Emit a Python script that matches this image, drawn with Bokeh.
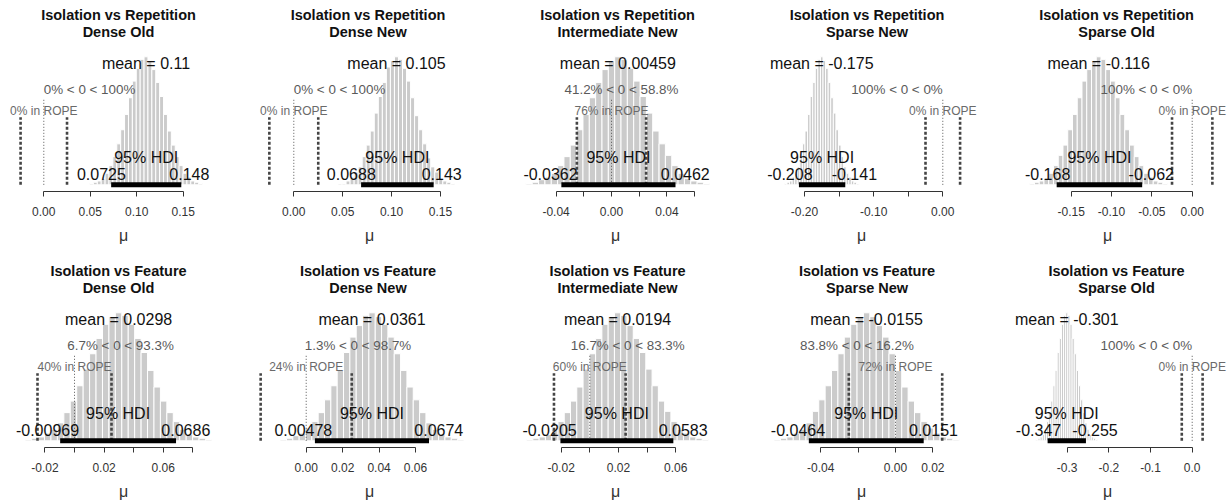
import numpy as np
from bokeh.plotting import figure
from bokeh.models import Range1d, FixedTicker, PrintfTickFormatter, Label, LinearAxis
from bokeh.layouts import gridplot
from bokeh.embed import file_html
from bokeh.resources import INLINE

# ---------------- data ----------------
comparisons = ["Isolation vs Repetition"] * 5 + ["Isolation vs Feature"] * 5
conditions = ["Dense Old", "Dense New", "Intermediate New", "Sparse New", "Sparse Old"] * 2
means = [0.11, 0.105, 0.00459, -0.175, -0.116, 0.0298, 0.0361, 0.0194, -0.0155, -0.301]
hdi_low = [0.0725, 0.0688, -0.0362, -0.208, -0.168, -0.00969, 0.00478, -0.0205, -0.0464, -0.347]
hdi_high = [0.148, 0.143, 0.0462, -0.141, -0.062, 0.0686, 0.0674, 0.0583, 0.0151, -0.255]
pct_below = [0, 0, 41.2, 100, 100, 6.7, 1.3, 16.7, 83.8, 100]
pct_above = [100, 100, 58.8, 0, 0, 93.3, 98.7, 83.3, 16.2, 0]
pct_in_rope = [0, 0, 76, 0, 0, 40, 24, 60, 72, 0]
rope = [-0.025, 0.025]
comp_val = 0.0
cred_mass = 95

hist_left = [0.0492, 0.0452, -0.0618, -0.2290, -0.2014, -0.0333, -0.0143, -0.0441, -0.0650, -0.3751]
bin_width = [0.004194, 0.004122, 0.004578, 0.003722, 0.005889, 0.00435, 0.003479, 0.004378, 0.003417, 0.005111]
heights = [
    [0.01, 0.02, 0.03, 0.05, 0.09, 0.15, 0.22, 0.32, 0.43, 0.55, 0.68, 0.81, 0.91, 0.98, 1.00, 0.97, 0.90, 0.80, 0.69, 0.55, 0.42, 0.31, 0.22, 0.15, 0.09, 0.06, 0.03, 0.02, 0.01],
    [0.01, 0.01, 0.03, 0.06, 0.10, 0.14, 0.22, 0.31, 0.42, 0.56, 0.69, 0.80, 0.92, 0.97, 1.00, 0.98, 0.91, 0.81, 0.68, 0.54, 0.43, 0.32, 0.21, 0.14, 0.10, 0.05, 0.03, 0.02, 0.01],
    [0.01, 0.02, 0.04, 0.06, 0.09, 0.15, 0.22, 0.31, 0.43, 0.55, 0.68, 0.80, 0.90, 0.97, 1.00, 0.98, 0.91, 0.81, 0.69, 0.56, 0.42, 0.32, 0.23, 0.15, 0.09, 0.05, 0.03, 0.02, 0.01],
    [0.01, 0.02, 0.03, 0.06, 0.09, 0.14, 0.22, 0.32, 0.42, 0.55, 0.69, 0.80, 0.91, 0.98, 1.00, 0.97, 0.91, 0.80, 0.68, 0.56, 0.43, 0.31, 0.22, 0.14, 0.09, 0.06, 0.03, 0.02, 0.01],
    [0.01, 0.02, 0.03, 0.05, 0.09, 0.15, 0.23, 0.31, 0.43, 0.55, 0.68, 0.81, 0.90, 0.97, 1.00, 0.98, 0.90, 0.81, 0.68, 0.55, 0.43, 0.31, 0.22, 0.15, 0.09, 0.06, 0.03, 0.02, 0.01],
    [0.01, 0.02, 0.03, 0.06, 0.09, 0.14, 0.22, 0.31, 0.43, 0.56, 0.68, 0.80, 0.91, 0.97, 1.00, 0.98, 0.91, 0.80, 0.69, 0.55, 0.42, 0.31, 0.22, 0.15, 0.09, 0.05, 0.03, 0.02, 0.01],
    [0.01, 0.02, 0.04, 0.06, 0.10, 0.15, 0.22, 0.32, 0.43, 0.55, 0.69, 0.81, 0.90, 0.98, 1.00, 0.97, 0.91, 0.81, 0.68, 0.55, 0.42, 0.32, 0.22, 0.14, 0.09, 0.05, 0.03, 0.02, 0.01],
    [0.01, 0.02, 0.03, 0.05, 0.09, 0.15, 0.22, 0.31, 0.42, 0.56, 0.68, 0.80, 0.91, 0.97, 1.00, 0.98, 0.90, 0.80, 0.69, 0.56, 0.43, 0.31, 0.23, 0.15, 0.09, 0.06, 0.03, 0.02, 0.01],
    [0.01, 0.02, 0.03, 0.06, 0.09, 0.14, 0.23, 0.32, 0.43, 0.55, 0.68, 0.81, 0.91, 0.97, 1.00, 0.97, 0.90, 0.81, 0.68, 0.55, 0.42, 0.31, 0.22, 0.15, 0.10, 0.06, 0.03, 0.02, 0.01],
    [0.01, 0.02, 0.03, 0.05, 0.09, 0.15, 0.22, 0.31, 0.43, 0.55, 0.69, 0.80, 0.91, 0.98, 1.00, 0.98, 0.91, 0.80, 0.68, 0.55, 0.43, 0.32, 0.22, 0.14, 0.09, 0.05, 0.03, 0.02, 0.01],
]
labeled_ticks = [[0, 0.05, 0.10, 0.15], [0, 0.05, 0.10, 0.15], [-0.04, 0, 0.04], [-0.20, -0.10, 0.0],
                 [-0.15, -0.10, -0.05, 0.0], [-0.02, 0.02, 0.06], [0, 0.02, 0.04, 0.06], [-0.02, 0.02, 0.06],
                 [-0.04, 0.0, 0.02], [-0.3, -0.2, -0.1, 0.0]]
unlabeled_ticks = [[], [], [-0.02, 0.02, 0.06], [-0.15, -0.05], [], [0.0, 0.04, 0.08], [], [0.0, 0.04],
                   [-0.02], []]
tick_formats = ["%.2f"] * 9 + ["%.1f"]
axis_title = "μ"

# ---------------- layout (pixels) ----------------
FIG_W = 246
ROW_H = [256, 247]
FRAME_H = 191
BASE_PX = 184.3      # baseline (y=0) measured from frame top
UNIT_PX = 128.0      # pixels per unit of normalised density
zero_px = [43.3, 47.3, 119.0, 204.3, 207.7, 74.0, 59.7, 97.3, 157.0, 207.7]
px_per_unit = [929, 978, 1385, 691.7, 806.7, 1480, 1822, 1433, 1868, 416.7]
center_px = [118, 121.5, 125, 128.5, 132]

FONT = "Liberation Sans"
ARIAL_W = {str(d): 556 for d in range(10)}
ARIAL_W.update({".": 278, "-": 333, "%": 889, " ": 278, "<": 584, "=": 584})


def text_width(s, size):
    return sum(ARIAL_W.get(ch, 556) for ch in s) * size / 1000.0


def fmt(v):
    return f"{v:g}"


def ypx(px_from_top):
    return (BASE_PX - px_from_top) / UNIT_PX


figs = []
for i in range(10):
    r, c = divmod(i, 5)
    ppu = px_per_unit[i]
    xs = -zero_px[i] / ppu
    xe = xs + FIG_W / ppu
    p = figure(width=FIG_W, height=ROW_H[r], x_range=Range1d(xs, xe),
               y_range=Range1d(ypx(FRAME_H), ypx(0)),
               output_backend="svg", toolbar_location=None,
               min_border_left=0, min_border_right=0, min_border_top=0,
               min_border_bottom=ROW_H[r] - FRAME_H, y_axis_location=None,
               outline_line_color=None, background_fill_color="white",
               border_fill_color="white")
    p.xgrid.visible = False
    p.ygrid.visible = False

    # histogram
    h = np.array(heights[i])
    edges = hist_left[i] + bin_width[i] * np.arange(len(h) + 1)
    p.quad(left=edges[:-1], right=edges[1:], bottom=0, top=h,
           fill_color="#cbcbcb", line_color="white", line_width=1)

    # ROPE and comparison value lines
    for rv in rope:
        p.segment(x0=[rv], y0=[0], x1=[rv], y1=[0.96 * 0.55], line_color="#444444",
                  line_width=2.6, line_dash="3 2")
    p.segment(x0=[comp_val], y0=[0], x1=[comp_val], y1=[0.96 * 0.7], line_color="#555555",
              line_width=1, line_dash="1 2")

    # HDI bar
    p.segment(x0=[hdi_low[i]], y0=[0], x1=[hdi_high[i]], y1=[0], line_color="black",
              line_width=5, line_cap="butt")

    cx = xs + center_px[c] / ppu
    # titles
    for txt, py in ((comparisons[i], 14), (conditions[i], 31.7)):
        p.add_layout(Label(x=cx, y=ypx(py), text=txt, text_align="center", text_baseline="middle",
                           text_font=FONT, text_font_size="14.5px", text_font_style="bold",
                           text_color="#111111"))
    # mean
    p.add_layout(Label(x=means[i], y=0.9, y_offset=-2, text="mean = " + fmt(means[i]),
                       text_align="center", text_baseline="bottom", text_font=FONT,
                       text_font_size="16px", text_color="#111111"))
    # comparison value text
    cv_txt = f"{fmt(pct_below[i])}% < {fmt(comp_val)} < {fmt(pct_above[i])}%"
    cv_size = 13.4
    p.add_layout(Label(x=comp_val, y=0.7, y_offset=-2, text=cv_txt, text_align="left",
                       text_baseline="bottom",
                       x_offset=-pct_below[i] / 100 * text_width(cv_txt, cv_size),
                       text_font=FONT, text_font_size=f"{cv_size}px", text_color="#5a5a5a"))
    # ROPE text
    p.add_layout(Label(x=sum(rope) / 2, y=0.55, y_offset=-4, text=f"{fmt(pct_in_rope[i])}% in ROPE",
                       text_align="center", text_baseline="bottom", text_font=FONT,
                       text_font_size="12px", text_color="#6a6a6a"))
    # HDI texts
    p.add_layout(Label(x=(hdi_low[i] + hdi_high[i]) / 2, y=0, y_offset=27, text=f"{cred_mass}% HDI",
                       text_align="center", text_baseline="middle", text_font=FONT,
                       text_font_size="16px", text_color="#111111"))
    lo_t, hi_t = fmt(hdi_low[i]), fmt(hdi_high[i])
    p.add_layout(Label(x=hdi_low[i], y=0, y_offset=11, text=lo_t, text_align="left",
                       x_offset=-0.7 * text_width(lo_t, 16), text_baseline="middle",
                       text_font=FONT, text_font_size="16px", text_color="#111111"))
    p.add_layout(Label(x=hdi_high[i], y=0, y_offset=11, text=hi_t, text_align="left",
                       x_offset=-0.3 * text_width(hi_t, 16), text_baseline="middle",
                       text_font=FONT, text_font_size="16px", text_color="#111111"))

    ax = p.xaxis[0]
    all_t = labeled_ticks[i] + unlabeled_ticks[i]
    ax.ticker = FixedTicker(ticks=labeled_ticks[i], minor_ticks=unlabeled_ticks[i])
    ax.bounds = (min(all_t), max(all_t))
    ax.formatter = PrintfTickFormatter(format=tick_formats[i])
    ax.major_tick_in = 0
    ax.major_tick_out = 5
    ax.minor_tick_in = 0
    ax.minor_tick_out = 5
    ax.axis_line_color = "#333333"
    ax.major_tick_line_color = "#333333"
    ax.minor_tick_line_color = "#333333"
    ax.major_label_text_font = FONT
    ax.major_label_text_font_size = "12px"
    ax.major_label_text_color = "#333333"
    ax.major_label_standoff = 10

    # axis title on a bare second axis, centred on the plot region
    half = 4.0 / ppu
    ax2 = LinearAxis(ticker=FixedTicker(ticks=[]), bounds=(cx - half, cx + half),
                     axis_line_color=None, major_tick_line_color=None, minor_tick_line_color=None,
                     major_tick_in=0, major_tick_out=0, minor_tick_in=0, minor_tick_out=0,
                     major_label_text_font_size="0px", major_label_standoff=0,
                     axis_label=axis_title, axis_label_standoff=8,
                     axis_label_text_font=FONT, axis_label_text_font_style="normal",
                     axis_label_text_font_size="16px", axis_label_text_color="#333333")
    p.add_layout(ax2, "below")
    figs.append(p)

grid = gridplot([figs[:5], figs[5:]], toolbar_location=None)
open("out.html", "w").write(file_html(grid, INLINE))
